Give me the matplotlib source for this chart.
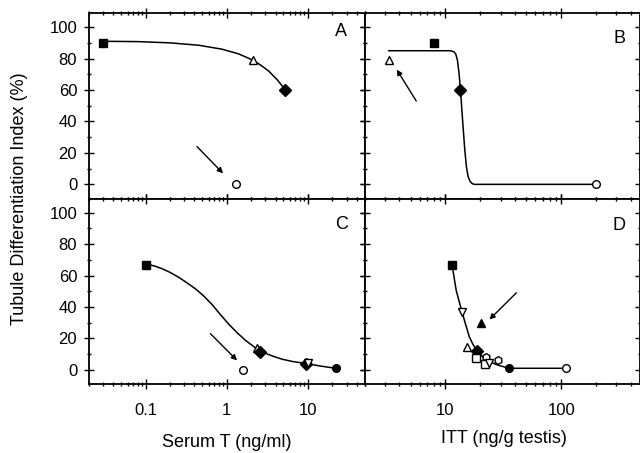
import matplotlib
matplotlib.use("Agg")
import matplotlib.pyplot as plt
from matplotlib.ticker import MultipleLocator, NullFormatter, FuncFormatter, LogLocator

plt.rcParams['font.family'] = ['Liberation Sans', 'DejaVu Sans']

# Panel A: serum T vs tubule differentiation index
a_x = [0.03, 2.1, 5.3, 1.3]
a_y = [90, 79, 60, 0]
a_mk = ['s', '^', 'D', 'o']
a_fill = [True, False, True, False]
a_curve_x = [0.03, 0.08, 0.2, 0.45, 0.87, 1.4, 2.1, 2.6, 3.3, 4.2, 5.3]
a_curve_y = [91, 90.8, 90, 88.5, 86, 83, 79, 76, 72, 66.5, 60]

# Panel B: intratesticular T vs index
b_x = [3.25, 7.9, 13.5, 200]
b_y = [79, 90, 60, 0]
b_mk = ['^', 's', 'D', 'o']
b_fill = [False, True, True, False]
b_curve_x = [3.25, 10.8, 11.4, 11.9, 12.3, 12.7, 13.1, 13.5, 14.1, 14.7, 15.2,
             15.7, 16.3, 17.0, 17.8, 200]
b_curve_y = [85, 85, 84.8, 84.2, 82.8, 79, 71, 60, 40, 22, 11, 5, 2, 0.5, 0, 0]

# Panel C
c_x = [0.1, 2.35, 2.6, 9.6, 10.0, 22, 1.6]
c_y = [67, 14, 11.5, 4, 4.5, 1, 0]
c_mk = ['s', '^', 'D', 'D', 'v', 'o', 'o']
c_fill = [True, False, True, True, False, True, False]
c_curve_x = [0.1, 0.13, 0.16, 0.2, 0.255, 0.32, 0.41, 0.52, 0.66, 0.84, 1.06,
             1.35, 1.7, 2.1, 2.4, 3.0, 3.7, 4.8, 6.5, 9.6, 14, 22]
c_curve_y = [67.4, 66, 64.3, 62, 58.9, 55.5, 51.6, 47, 41.5, 35, 29, 23.5,
             18.8, 15.2, 13, 10.6, 8.7, 6.8, 5.3, 4, 2.5, 1]

# Panel D
d_x = [11.4, 13.9, 20.5, 15.5, 18.6, 18.2, 22.5, 21.9, 24, 28.3, 35.7, 110]
d_y = [67, 37, 30, 14.5, 12.3, 7.4, 8.0, 3.6, 4.2, 6.3, 1, 1]
d_mk = ['s', 'v', '^', '^', 'D', 's', 'h', 's', 'v', 'h', 'o', 'o']
d_fill = [True, False, True, False, True, False, False, False, False, False, True, False]
d_curve_x = [11.4, 12.4, 13.9, 15.0, 16.1, 17.3, 18.6, 21, 24, 27, 30, 35.7, 110]
d_curve_y = [67, 50.5, 37, 28.5, 21, 16.2, 12.5, 8.2, 5.3, 3.6, 2.5, 1, 1]

# arrows: (tail, head)
arrows = {
    'A': ((0.43, 24), (0.9, 7)),
    'B': ((5.6, 53), (3.8, 73)),
    'C': ((0.63, 23), (1.34, 6)),
    'D': ((41, 49), (24, 32)),
}

fig = plt.figure(figsize=(6.4, 4.53), dpi=100)
gs = fig.add_gridspec(2, 2, left=89/640, right=1.0, top=1-13/453, bottom=1-384/453,
                      hspace=0, wspace=0)
axA = fig.add_subplot(gs[0, 0])
axB = fig.add_subplot(gs[0, 1])
axC = fig.add_subplot(gs[1, 0])
axD = fig.add_subplot(gs[1, 1])

panels = [
    (axA, 'A', a_x, a_y, a_mk, a_fill, a_curve_x, a_curve_y, (0.02, 50), (0.913, 0.9)),
    (axB, 'B', b_x, b_y, b_mk, b_fill, b_curve_x, b_curve_y, (2, 480), (0.925, 0.865)),
    (axC, 'C', c_x, c_y, c_mk, c_fill, c_curve_x, c_curve_y, (0.02, 50), (0.915, 0.86)),
    (axD, 'D', d_x, d_y, d_mk, d_fill, d_curve_x, d_curve_y, (2, 480), (0.925, 0.855)),
]

for ax, letter, xs, ys, mks, fills, cx, cy, xlim, lpos in panels:
    ax.set_xscale('log')
    ax.plot(cx, cy, color='black', lw=1.1, zorder=2)
    for x, y, m, f in zip(xs, ys, mks, fills):
        ms = 6 if m == 'D' else 5.5
        ax.plot([x], [y], marker=m, ms=ms, mfc='black' if f else 'white',
                mec='black', mew=1.0, ls='none', zorder=3)
    tail, head = arrows[letter]
    ax.annotate('', xy=head, xytext=tail,
                arrowprops=dict(arrowstyle='-|>', color='black', lw=1.0,
                                mutation_scale=8, shrinkA=0, shrinkB=0))
    ax.text(lpos[0], lpos[1], letter, transform=ax.transAxes, ha='center',
            va='center', fontsize=13)
    ax.set_xlim(*xlim)
    ax.set_ylim(-9, 109)
    ax.yaxis.set_major_locator(MultipleLocator(20))
    ax.yaxis.set_minor_locator(MultipleLocator(10))
    ax.xaxis.set_major_locator(LogLocator(base=10))
    ax.xaxis.set_minor_locator(LogLocator(base=10, subs=range(2, 10)))
    ax.xaxis.set_minor_formatter(NullFormatter())
    ax.xaxis.set_major_formatter(FuncFormatter(lambda v, p: '{:g}'.format(v)))
    ax.tick_params(which='both', direction='inout', top=True, right=True,
                   width=1.0, labelsize=12, labelleft=False, labelbottom=False)
    ax.tick_params(which='major', length=7)
    ax.tick_params(which='minor', length=3.5)
    ax.tick_params(axis='x', pad=10)
    ax.tick_params(axis='y', pad=5)
    for s in ax.spines.values():
        s.set_linewidth(1.3)

for ax in (axA, axC):
    ax.tick_params(labelleft=True)
for ax in (axC, axD):
    ax.tick_params(labelbottom=True)

fig.text(20/640, 1-198.5/453, 'Tubule Differentiation Index (%)', rotation=90,
         ha='center', va='center', fontsize=13)
fig.text(227/640, 1-447/453, 'Serum T (ng/ml)', ha='center', va='baseline', fontsize=13)
fig.text(504/640, 1-443/453, 'ITT (ng/g testis)', ha='center', va='baseline', fontsize=13)

fig.savefig('out.png', dpi=100)
